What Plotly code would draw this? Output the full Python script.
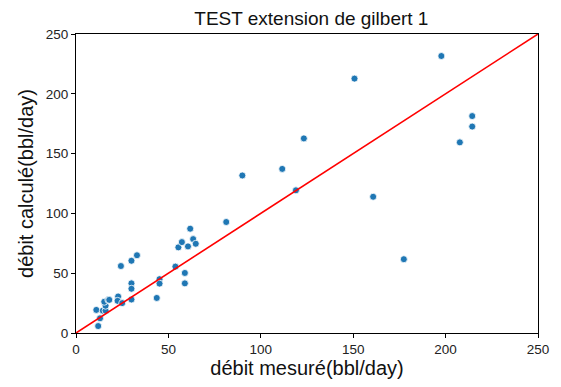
import plotly.graph_objects as go

# Débit mesuré vs débit calculé (bbl/day)
debit_mesure = [11, 12, 13, 14.5, 16, 16, 15.3, 17.5, 18, 22.8, 22.5, 25, 24.3,
                30, 30, 30, 30, 33, 43.7, 45.2, 45.2, 53.8, 55.4, 57.3, 58.9, 58.9,
                60.6, 61.8, 63.4, 64.8, 81.3, 90, 111.6, 119, 123.3, 150.7, 160.8,
                177.4, 197.7, 207.7, 214.4, 214.4]
debit_calcule = [19.3, 5.8, 12.3, 18.7, 18.7, 22.8, 26.1, 27.7, 27.7, 30.5, 26.9, 25, 56,
                 41.5, 37, 28, 60.4, 65, 29.3, 45, 41.3, 55.5, 71.6, 76, 50.2, 41.5,
                 72.4, 87.2, 78.5, 74.6, 92.8, 131.7, 137.2, 119.3, 162.7, 212.7, 113.9,
                 61.7, 231.6, 159.4, 181.4, 172.6]

# Droite y = x
ligne_ref = [0, 250]

font_family = "Liberation Sans, Arial, sans-serif"

fig = go.Figure()
fig.add_trace(go.Scatter(
    x=debit_mesure, y=debit_calcule, mode="markers",
    marker=dict(color="#1f77b4", size=7, line=dict(color="white", width=0.8)),
    showlegend=False,
))
fig.add_trace(go.Scatter(
    x=ligne_ref, y=ligne_ref, mode="lines",
    line=dict(color="red", width=1.6),
    showlegend=False, cliponaxis=True,
))

axis_common = dict(
    range=[0, 250], tickvals=[0, 50, 100, 150, 200, 250],
    showgrid=False, zeroline=False, showline=True, mirror=True,
    linecolor="black", linewidth=1, ticks="outside", ticklen=4,
    tickcolor="black", tickfont=dict(family=font_family, size=13.5, color="#222"),
)

fig.update_layout(
    width=561, height=387,
    margin=dict(l=76, r=16, t=34, b=45),
    paper_bgcolor="white", plot_bgcolor="white",
    title=dict(text="TEST extension de gilbert 1", x=0.555, xanchor="center",
               y=0.952, yanchor="middle",
               font=dict(family=font_family, size=19, color="#111")),
    xaxis=dict(title=dict(text="débit mesuré(bbl/day)", standoff=4,
                          font=dict(family=font_family, size=20, color="#111")),
               **axis_common),
    yaxis=dict(title=dict(text="débit calculé(bbl/day)", standoff=6,
                          font=dict(family=font_family, size=20, color="#111")),
               **axis_common),
)

fig.write_html("out.html")
